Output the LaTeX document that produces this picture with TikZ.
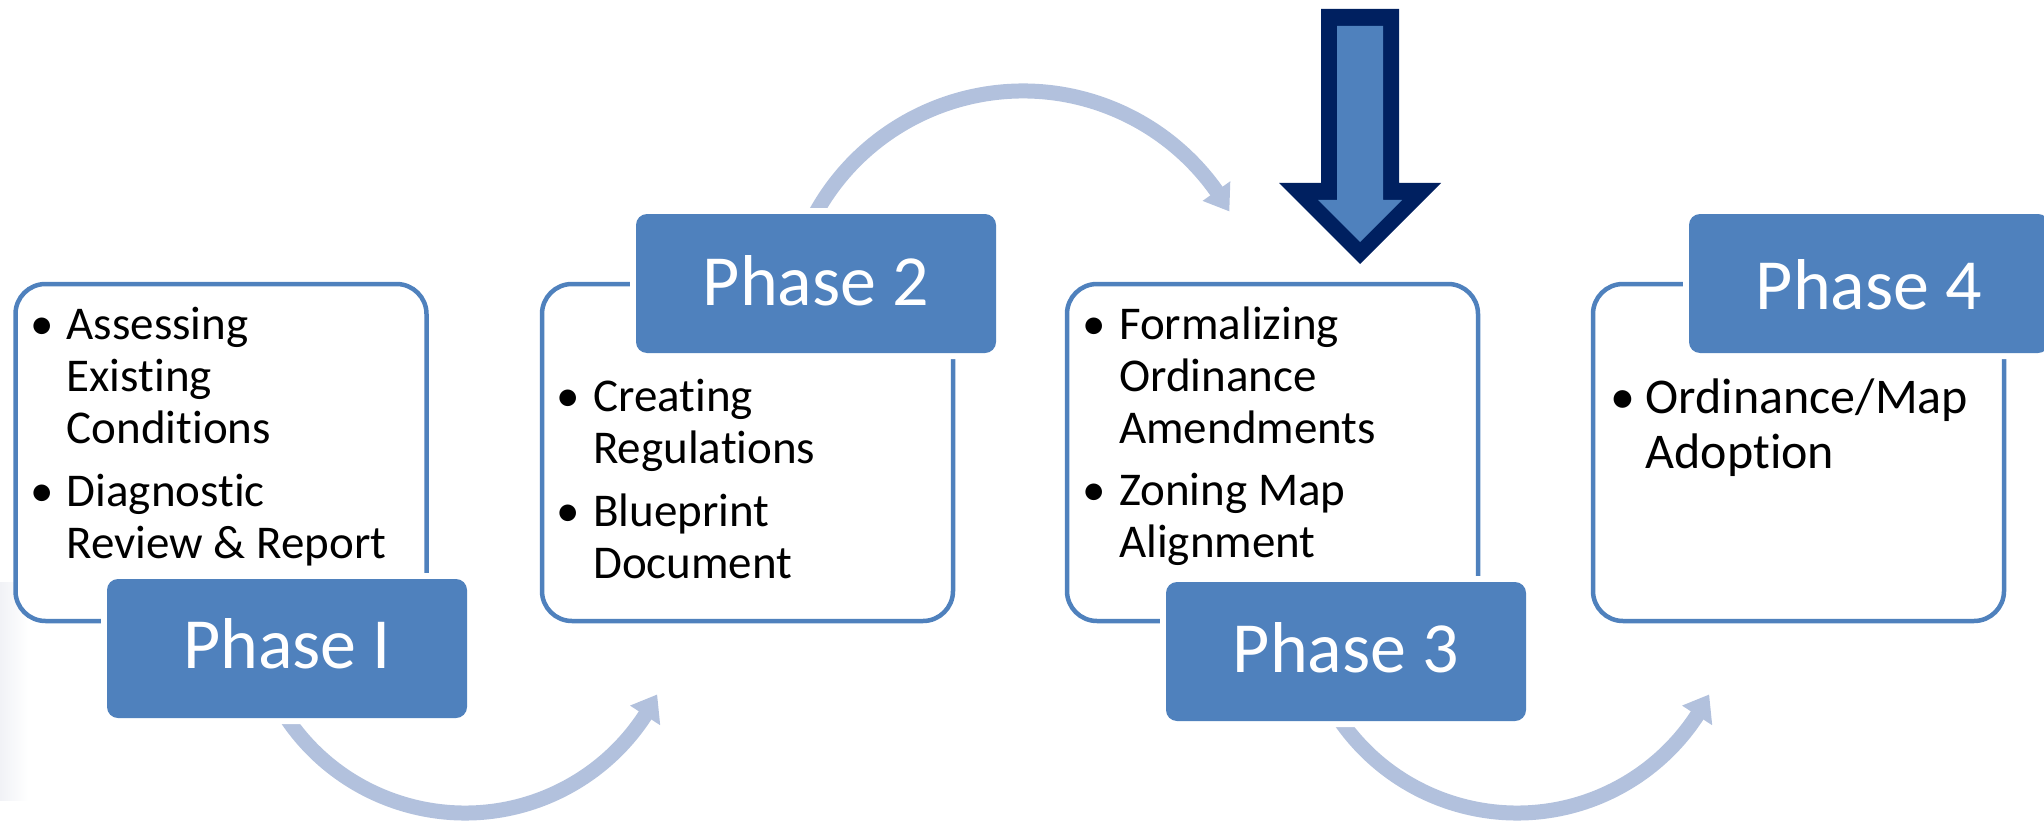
\documentclass[tikz,border=0pt]{standalone}
\usepackage{fontspec}
\setmainfont[Ligatures=NoCommon]{Carlito}
\usetikzlibrary{calc}
\definecolor{accent}{HTML}{4F81BD}
\definecolor{flowarc}{HTML}{B2C1DD}
\definecolor{navy}{HTML}{002060}
\definecolor{haze}{HTML}{F1F2F6}

\begin{document}
\begin{tikzpicture}[x=1pt,y=-1pt,
  phasebox/.style={draw=accent, fill=white, line width=4.5, rounded corners=30,
    minimum width=411, minimum height=337, anchor=north west, outer sep=0, inner sep=0},
  phasehead/.style={fill=accent, rounded corners=11, minimum width=360, minimum height=139,
    anchor=north west, outer sep=0, inner sep=0, preaction={draw=white, line width=12}},
  headtxt/.style={text=white, font=\fontsize{72}{80}\selectfont, inner sep=0, anchor=base},
  bodytxt/.style={font=\fontsize{47}{52}\selectfont, inner sep=0, anchor=base west},
  bodydot/.style={font=\fontsize{47}{52}\selectfont, inner sep=0, anchor=base},
  bigtxt/.style={font=\fontsize{50}{55}\selectfont, inner sep=0, anchor=base west},
  bigdot/.style={font=\fontsize{50}{55}\selectfont, inner sep=0, anchor=base},
  arcline/.style={draw=flowarc, line width=15},
  archead/.style={fill=flowarc},
]
\useasboundingbox (0,0) rectangle (2044,821);
\clip (0,0) rectangle (2044,821);

% faint shadow along the left edge
\shade[left color=haze, right color=white] (0,582) rectangle (28,800);

% curved flow arrows between the phases
\coordinate (o1) at (465,598);
\coordinate (o2) at (1023,328);
\coordinate (o3) at (1517,598);
\coordinate (s1) at ($(o1)+(150:215)$);
\coordinate (s2) at ($(o2)+(205:237)$);
\coordinate (s3) at ($(o3)+(150:215)$);
\draw[arcline] (s1) arc (150:32.8:215);
\fill[archead] ($(o1)+(33.1:197)$) -- ($(o1)+(26.7:215)$) -- ($(o1)+(33.1:233)$) -- cycle;
\draw[arcline] (s2) arc (205:325.0:237);
\fill[archead] ($(o2)+(324.7:220)$) -- ($(o2)+(330.5:237)$) -- ($(o2)+(324.7:254)$) -- cycle;
\draw[arcline] (s3) arc (150:32.8:215);
\fill[archead] ($(o3)+(33.1:197)$) -- ($(o3)+(26.7:215)$) -- ($(o3)+(33.1:233)$) -- cycle;

% phase boxes
\node[phasebox] (b1) at (15.5,284) {};
\node[phasebox] (b2) at (542,284) {};
\node[phasebox] (b3) at (1067,284) {};
\node[phasebox] (b4) at (1593,284) {};

% phase headers
\node[phasehead] (h1) at (107,579) {};
\node[phasehead] (h2) at (636,214) {};
\node[phasehead] (h3) at (1166,582) {};
\node[phasehead] (h4) at (1689,214) {};

\node[headtxt] (p1) at ($(h1.north)+(0,89)$) {Phase I};
\node[headtxt] (p2) at ($(h2.north)+(0,91)$) {Phase 2};
\node[headtxt] (p3) at ($(h3.north)+(0,90)$) {Phase 3};
\node[headtxt] (p4) at ($(h4.north)+(0,95)$) {Phase 4};

% box 1 items
\node[bodydot] (d1a) at (42,339) {•};
\node[bodytxt] (t1a) at (66.5,339) {Assessing};
\node[bodytxt] (t1b) at (66.5,391) {Existing};
\node[bodytxt] (t1c) at (66.5,443) {Conditions};
\node[bodydot] (d1b) at (42,506) {•};
\node[bodytxt] (t1d) at (66.5,506) {Diagnostic};
\node[bodytxt] (t1e) at (66.5,558) {Review \& Report};

% box 2 items
\node[bodydot] (d2a) at (568.5,411) {•};
\node[bodytxt] (t2a) at (593,411) {Creating};
\node[bodytxt] (t2b) at (593,463) {Regulations};
\node[bodydot] (d2b) at (568.5,526) {•};
\node[bodytxt] (t2c) at (593,526) {Blueprint};
\node[bodytxt] (t2d) at (593,578) {Document};

% box 3 items
\node[bodydot] (d3a) at (1094,339) {•};
\node[bodytxt] (t3a) at (1119,339) {Formalizing};
\node[bodytxt] (t3b) at (1119,391) {Ordinance};
\node[bodytxt] (t3c) at (1119,443) {Amendments};
\node[bodydot] (d3b) at (1094,505) {•};
\node[bodytxt] (t3d) at (1119,505) {Zoning Map};
\node[bodytxt] (t3e) at (1119,557) {Alignment};

% box 4 items
\node[bigdot] (d4a) at (1623,413) {•};
\node[bigtxt] (t4a) at (1645.5,413) {Ordinance/Map};
\node[bigtxt] (t4b) at (1645.5,468) {Adoption};

% block arrow pointing down at phase 3
\fill[navy] (1321,9) -- (1399,9) -- (1399,183) -- (1441,183) -- (1360,264)
  -- (1279,183) -- (1321,183) -- cycle;
\fill[accent] (1337,26) -- (1383,26) -- (1383,200) -- (1402,200) -- (1360,242)
  -- (1318,200) -- (1337,200) -- cycle;
\end{tikzpicture}
\end{document}
